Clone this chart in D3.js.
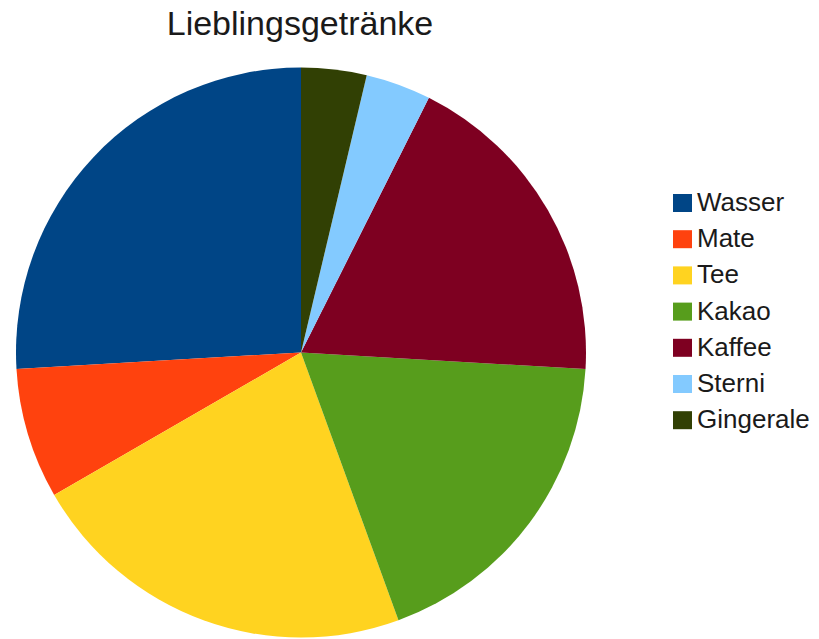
<!DOCTYPE html>
<html>
<head>
<meta charset="utf-8">
<script src="https://cdn.jsdelivr.net/npm/d3@7"></script>
<style>
  body { margin: 0; background: #fff; }
  text { font-family: "Liberation Sans", Arial, sans-serif; fill: #1a1a1a; }
</style>
</head>
<body>
<svg id="chart" width="819" height="639"></svg>
<script>
const drinks = ['Wasser', 'Mate', 'Tee', 'Kakao', 'Kaffee', 'Sterni', 'Gingerale'];
const votes = [7, 2, 6, 5, 5, 1, 1];
const colours = ['#004586', '#ff420e', '#ffd320', '#579d1c', '#7e0021', '#83caff', '#314004'];

let svg = d3.select('#chart');
let width = 819, height = 639;

let cx = 301, cy = 352.5, radius = 285;

const color = d3.scaleOrdinal().domain(drinks).range(colours);

let data = drinks.map(function(d, i) { return {name: d, value: votes[i]}; });

// libreoffice draws the slices counter-clockwise from 12 o'clock
let pie = d3.pie()
  .value(d => d.value)
  .sort(null)
  .startAngle(0)
  .endAngle(-2 * Math.PI);

let arc = d3.arc().innerRadius(0).outerRadius(radius);

svg.append('g')
  .attr('transform', `translate(${cx},${cy})`)
  .selectAll('path')
  .data(pie(data))
  .enter()
  .append('path')
  .attr('d', arc)
  .attr('fill', d => color(d.data.name));

svg.append('text')
  .attr('x', 300)
  .attr('y', 35)
  .attr('text-anchor', 'middle')
  .style('font-size', '34px')
  .text('Lieblingsgetränke');

let legend = svg.append('g')
  .attr('class', 'legend')
  .attr('transform', 'translate(673,194)');

let item = legend.selectAll('g')
  .data(drinks)
  .enter()
  .append('g')
  .attr('transform', (d, i) => `translate(0,${i * 36.2})`);

item.append('rect')
  .attr('width', 19)
  .attr('height', 18)
  .attr('fill', d => color(d));

item.append('text')
  .attr('x', 24)
  .attr('y', 17)
  .style('font-size', '26px')
  .text(d => d);
</script>
</body>
</html>
